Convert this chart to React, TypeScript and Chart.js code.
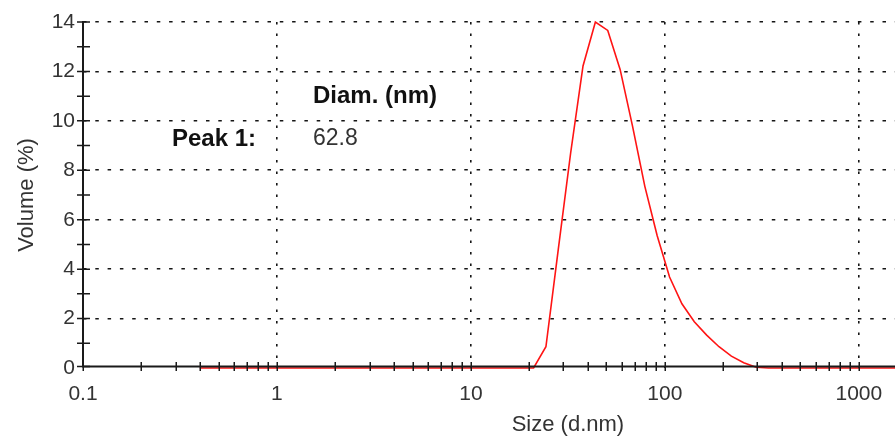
import React, { useEffect, useRef } from 'react';
import { Chart, registerables } from 'chart.js';

Chart.register(...registerables);

// Size bins (d.nm)
const sizes = [
  0.4, 0.4632, 0.5365, 0.6213, 0.7195, 0.8332, 0.9649, 1.117, 1.294, 1.499,
  1.736, 2.01, 2.328, 2.696, 3.122, 3.615, 4.187, 4.849, 5.615, 6.503,
  7.531, 8.721, 10.1, 11.7, 13.54, 15.69, 18.17, 21.04, 24.36, 28.21,
  32.67, 37.84, 43.82, 50.75, 58.77, 68.06, 78.82, 91.28, 105.7, 122.4,
  141.8, 164.2, 190.1, 220.2, 255.0, 295.3, 342.0, 396.1, 458.7, 531.2,
  615.1, 712.4, 825.0, 955.4, 1106, 1281, 1484, 1718, 1990, 2305,
  2669, 3091, 3580, 4145, 4801, 5560, 6439, 7456, 8635, 10000,
];

// Volume (%)
const volume = [
  0, 0, 0, 0, 0, 0, 0, 0, 0, 0,
  0, 0, 0, 0, 0, 0, 0, 0, 0, 0,
  0, 0, 0, 0, 0, 0, 0, 0, 0.86, 4.8,
  8.7, 12.22, 14.0, 13.66, 12.08, 9.8, 7.35, 5.35, 3.68, 2.6,
  1.87, 1.33, 0.86, 0.48, 0.21, 0.03, 0, 0, 0, 0,
  0, 0, 0, 0, 0, 0, 0, 0, 0, 0,
  0, 0, 0, 0, 0, 0, 0, 0, 0, 0,
];

const xMajorTicks = [0.1, 1, 10, 100, 1000, 10000];
const xMajorLabels = ['0.1', '1', '10', '100', '1000', '10000'];
const yMin = 0;
const yMax = 14;
const yLabelStep = 2;

const xTitle = 'Size (d.nm)';
const yTitle = 'Volume (%)';
const peakHeader = 'Diam. (nm)';
const peakLabel = 'Peak 1:';
const peakValue = '62.8';

const FONT = "'Liberation Sans', Arial, Helvetica, sans-serif";
const TEXT = '#333333';
const GRID = '#151515';

const xTickValues: number[] = [];
xMajorTicks.slice(0, -1).forEach((d) => {
  for (let m = 1; m <= 9; m++) xTickValues.push(d * m);
});
xTickValues.push(xMajorTicks[xMajorTicks.length - 1]);

const isMajorX = (v: number) => xMajorTicks.some((m) => Math.abs(m - v) < m * 1e-6);

const overlayPlugin = {
  id: 'overlay',
  afterDatasetsDraw(chart: any) {
    const { ctx, chartArea, scales } = chart;
    const xs = scales.x;
    const ys = scales.y;
    const { left, right, top, bottom } = chartArea;
    ctx.save();
    ctx.strokeStyle = '#1a1a1a';
    ctx.lineWidth = 2;
    ctx.beginPath();
    ctx.moveTo(left, top - 1);
    ctx.lineTo(left, bottom - 1);
    ctx.moveTo(left - 1, bottom - 1.5);
    ctx.lineTo(right + 60, bottom - 1.5);
    ctx.stroke();

    ctx.lineWidth = 1.5;
    ctx.beginPath();
    xs.ticks.forEach((t: any) => {
      const px = Math.round(xs.getPixelForValue(t.value)) + 0.25;
      ctx.moveTo(px, bottom - 6);
      ctx.lineTo(px, bottom + 3);
    });
    ys.ticks.forEach((t: any) => {
      const py = ys.getPixelForValue(t.value) - (t.value === 0 ? 1.5 : 0);
      ctx.moveTo(left - 6, py);
      ctx.lineTo(left + 7, py);
    });
    ctx.stroke();

    // Peak table annotation
    ctx.textBaseline = 'alphabetic';
    ctx.textAlign = 'left';
    ctx.fillStyle = '#111111';
    ctx.font = `bold 24px ${FONT}`;
    ctx.fillText(peakHeader, left + 230, 103);
    ctx.fillText(peakLabel, left + 89, 146);
    ctx.fillStyle = TEXT;
    ctx.font = `23px ${FONT}`;
    ctx.fillText(peakValue, left + 230, 145);
    ctx.restore();
  },
};

export default function App() {
  const canvasRef = useRef<HTMLCanvasElement | null>(null);

  useEffect(() => {
    const canvas = canvasRef.current;
    if (!canvas) return;
    const chart = new Chart(canvas, {
      type: 'line',
      data: {
        datasets: [
          {
            label: 'Volume',
            data: sizes.map((s, i) => ({ x: s, y: volume[i] })),
            borderColor: 'rgb(255, 20, 20)',
            borderWidth: 1.6,
            pointRadius: 0,
            tension: 0,
            fill: false,
            clip: false as any,
          },
        ],
      },
      options: {
        responsive: false,
        animation: false,
        events: [],
        layout: { padding: { left: 0, right: 41, top: 22, bottom: 0 } },
        plugins: {
          legend: { display: false },
          tooltip: { enabled: false },
          title: { display: false },
        },
        scales: {
          x: {
            type: 'logarithmic',
            min: xMajorTicks[0],
            max: xMajorTicks[xMajorTicks.length - 1],
            afterBuildTicks: (scale: any) => {
              scale.ticks = xTickValues.map((v) => ({ value: v }));
            },
            afterFit: (scale: any) => {
              scale.height = 69;
            },
            ticks: {
              autoSkip: false,
              maxRotation: 0,
              minRotation: 0,
              padding: 14,
              color: TEXT,
              font: { family: FONT, size: 21 },
              callback: (value: any) => {
                const v = Number(value);
                const idx = xMajorTicks.findIndex((m) => Math.abs(m - v) < m * 1e-6);
                return idx >= 0 ? xMajorLabels[idx] : '';
              },
            },
            grid: {
              drawTicks: false,
              lineWidth: 1.6,
              color: (c: any) => {
                const v = c.tick ? c.tick.value : NaN;
                return isMajorX(v) && v > xMajorTicks[0] * 1.01 ? GRID : 'rgba(0,0,0,0)';
              },
            },
            border: { display: false, dash: [2.5, 9] },
            title: {
              display: true,
              text: xTitle,
              color: TEXT,
              font: { family: FONT, size: 22, lineHeight: 1 },
              padding: { top: 0, bottom: 1 },
            },
          },
          y: {
            type: 'linear',
            min: yMin,
            max: yMax,
            afterFit: (scale: any) => {
              scale.width = 83;
            },
            ticks: {
              stepSize: 1,
              autoSkip: false,
              padding: 8,
              color: TEXT,
              font: { family: FONT, size: 21 },
              callback: (value: any) => {
                const v = Number(value);
                return v % yLabelStep === 0 ? String(v) : '';
              },
            },
            grid: {
              drawTicks: false,
              lineWidth: 1.6,
              color: (c: any) => {
                const v = c.tick ? c.tick.value : NaN;
                return v > yMin && v % yLabelStep === 0 ? GRID : 'rgba(0,0,0,0)';
              },
            },
            border: { display: false, dash: [3.5, 8.8] },
            title: {
              display: true,
              text: yTitle,
              color: TEXT,
              font: { family: FONT, size: 22, lineHeight: 1 },
              padding: { top: 16, bottom: 0 },
            },
          },
        },
      },
      plugins: [overlayPlugin],
    });
    return () => chart.destroy();
  }, []);

  return (
    <div
      style={{
        position: 'absolute',
        left: 0,
        top: 0,
        width: 895,
        height: 437,
        overflow: 'hidden',
        background: '#ffffff',
      }}
    >
      <canvas ref={canvasRef} width={1096} height={437} style={{ display: 'block' }} />
    </div>
  );
}
